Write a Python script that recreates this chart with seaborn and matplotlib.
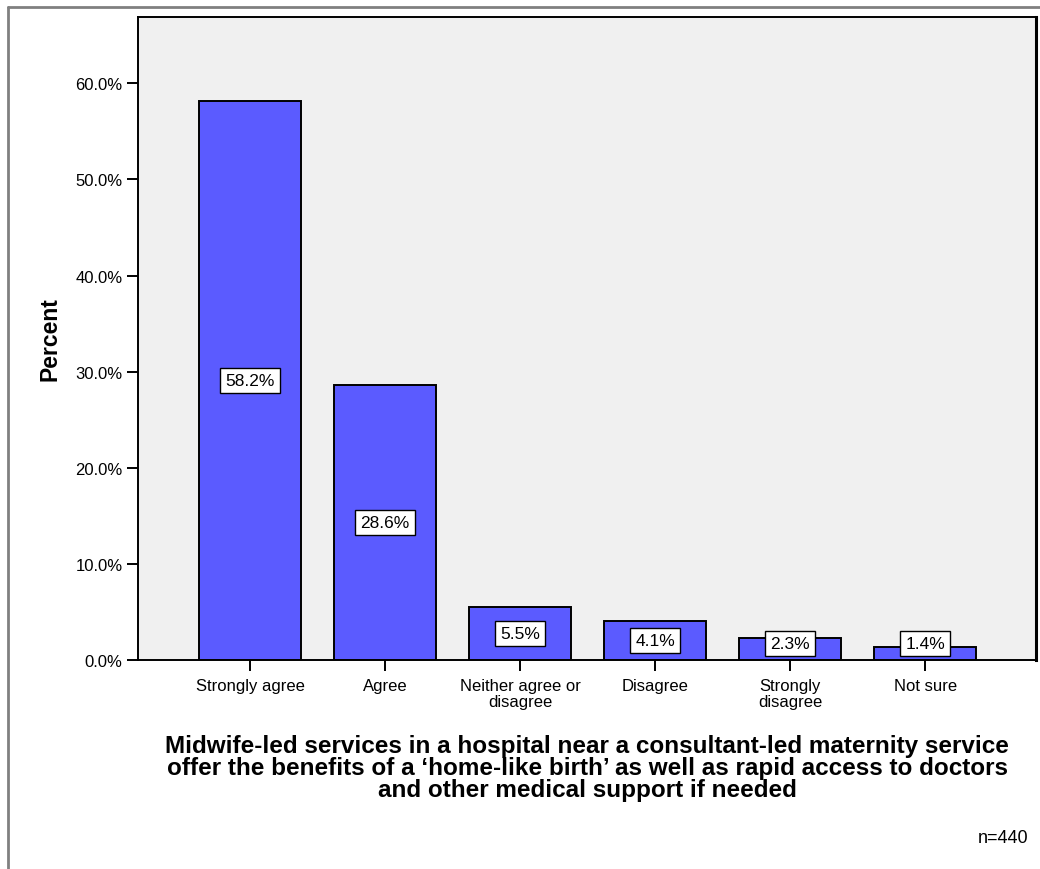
import matplotlib
matplotlib.use("Agg")
import matplotlib.pyplot as plt
from matplotlib.lines import Line2D
import seaborn as sns
import pandas as pd

# response categories and percentages (n=440)
categories = ["Strongly agree", "Agree", "Neither agree or\ndisagree",
              "Disagree", "Strongly\ndisagree", "Not sure"]
percents = [58.2, 28.6, 5.5, 4.1, 2.3, 1.4]
ytick_vals = [0, 10, 20, 30, 40, 50, 60]
ytick_labels = ["0.0%", "10.0%", "20.0%", "30.0%", "40.0%", "50.0%", "60.0%"]
title = ("Midwife-led services in a hospital near a consultant-led maternity service\n"
         "offer the benefits of a \u2018home-like birth\u2019 as well as rapid access to doctors\n"
         "and other medical support if needed")

sns.set_theme(style="ticks")
plt.rcParams['font.family'] = ['Liberation Sans', 'DejaVu Sans']
plt.rcParams.update({'text.color': 'black', 'axes.labelcolor': 'black',
                     'xtick.color': 'black', 'ytick.color': 'black'})

df = pd.DataFrame({'response': categories, 'percent': percents})

fig = plt.figure(figsize=(10.4, 8.7), dpi=100)
ax = fig.add_axes([0.1327, 0.2402, 0.8635, 0.7391])
ax.set_facecolor('#f0f0f0')

sns.barplot(data=df, x='response', y='percent', color='#5b5bff', saturation=1,
            edgecolor='black', linewidth=1.4, width=0.755, ax=ax)

ax.set_xlim(-0.83, 5.82)
ax.set_ylim(0, 66.9)
ax.set_yticks(ytick_vals)
ax.set_yticklabels(ytick_labels)

for i, v in enumerate(percents):
    ax.text(i, max(v / 2, 1.7), f"{v:.1f}%", ha='center', va='center', fontsize=12.5,
            bbox=dict(boxstyle='square,pad=0.3', facecolor='white', edgecolor='black', linewidth=1))

ax.tick_params(axis='both', direction='out', length=8, width=1.4, color='black',
               labelsize=12, pad=3)
ax.tick_params(axis='x', pad=5)
for lbl in ax.get_xticklabels():
    lbl.set_linespacing(1.05)

for s in ax.spines.values():
    s.set_visible(True)
    s.set_color('black')
    s.set_linewidth(1.4)
ax.spines['right'].set_linewidth(2.2)

ax.set_ylabel('Percent', fontsize=16.5, fontweight='bold', labelpad=10)
ax.set_xlabel(title, fontsize=17.5, fontweight='bold', labelpad=18, linespacing=0.95)

fig.text(0.989, 0.036, 'n=440', ha='right', va='center', fontsize=13)

# outer frame (top and left edges visible)
fig.add_artist(Line2D([8 / 1040, 1.0], [1 - 8 / 870, 1 - 8 / 870], color='#808080', linewidth=2,
                      transform=fig.transFigure))
fig.add_artist(Line2D([8 / 1040, 8 / 1040], [0.0, 1 - 8 / 870], color='#808080', linewidth=2,
                      transform=fig.transFigure))

fig.savefig('out.png', dpi=100, facecolor='white')
